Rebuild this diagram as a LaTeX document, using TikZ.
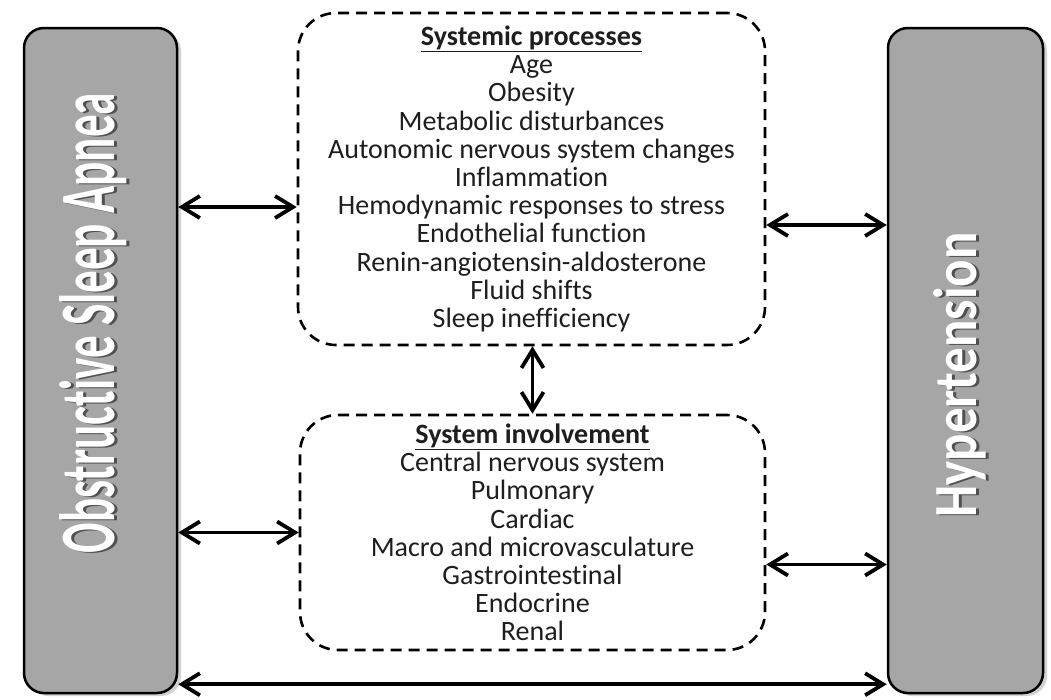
\documentclass[tikz,border=0pt]{standalone}
\usepackage{fontspec}
\setmainfont{Carlito}[Ligatures=NoCommon]
\usepackage{graphicx}
\usetikzlibrary{arrows.meta,shadows}
\definecolor{bargray}{HTML}{A6A6A6}
\definecolor{inkgray}{HTML}{1E1E1E}
\definecolor{shd}{HTML}{505050}
\tikzset{bar/.style={draw,line width=2.5pt,rounded corners=20pt,fill=bargray,minimum height=665pt,
   drop shadow={shadow xshift=4pt,shadow yshift=-3pt,fill=black!35}},
 grp/.style={draw,line width=2.6pt,dash pattern=on 11pt off 7pt,rounded corners=38pt,align=center,
   font=\fontsize{28}{28.2}\selectfont,text=inkgray,inner sep=0pt},
 vt/.style={rotate=90,text=white,font=\bfseries,inner sep=0pt},
 dar/.style={line width=3.8pt,{Straight Barb[length=18pt,width=22pt]}-{Straight Barb[length=18pt,width=22pt]}}}
\newcommand{\shtext}[3]{\rlap{\hspace{-1pt}\raisebox{-3pt}{\color{shd}\resizebox{#1}{#2}{#3}}}\resizebox{#1}{#2}{#3}}

\begin{document}
\begin{tikzpicture}[x=1pt,y=-1pt]
\useasboundingbox (0,0) rectangle (1051,699);
\node[bar,minimum width=153pt](osa) at (100.5,360.5){};
\node[bar,minimum width=155pt](htn) at (965.5,360.5){};
\node[vt](osatxt) at (95,323){\shtext{460pt}{55pt}{Obstructive Sleep Apnea}};
\node[vt](htntxt) at (961,375){\shtext{285pt}{43pt}{Hypertension}};
\node[grp,minimum width=467pt,minimum height=332pt](sysproc) at (531.5,179){\underline{\textbf{Systemic processes}}\\Age\\Obesity\\Metabolic disturbances\\Autonomic nervous system changes\\Inflammation\\Hemodynamic responses to stress\\Endothelial function\\Renin-angiotensin-aldosterone\\Fluid shifts\\Sleep inefficiency};
\node[grp,minimum width=465pt,minimum height=235pt](sysinv) at (532.5,532.5){\underline{\textbf{System involvement}}\\Central nervous system\\Pulmonary\\Cardiac\\Macro and microvasculature\\Gastrointestinal\\Endocrine\\Renal};
\coordinate (pa) at ([yshift=-28pt]sysproc.west);
\coordinate (pb) at ([yshift=-46pt]sysproc.east);
\coordinate (pe) at ([yshift=-32pt]sysinv.east);
\coordinate (pf) at ([yshift=10pt]osa.south east);
\draw[dar](osa.east|-pa)--(pa);
\draw[dar](pb)--(htn.west|-pb);
\draw[dar](sysproc.south-|sysinv.north)--(sysinv.north);
\draw[dar](osa.east|-sysinv.west)--(sysinv.west);
\draw[dar](pe)--(htn.west|-pe);
\draw[dar](osa.east|-pf)--(htn.west|-pf);
\end{tikzpicture}
\end{document}
